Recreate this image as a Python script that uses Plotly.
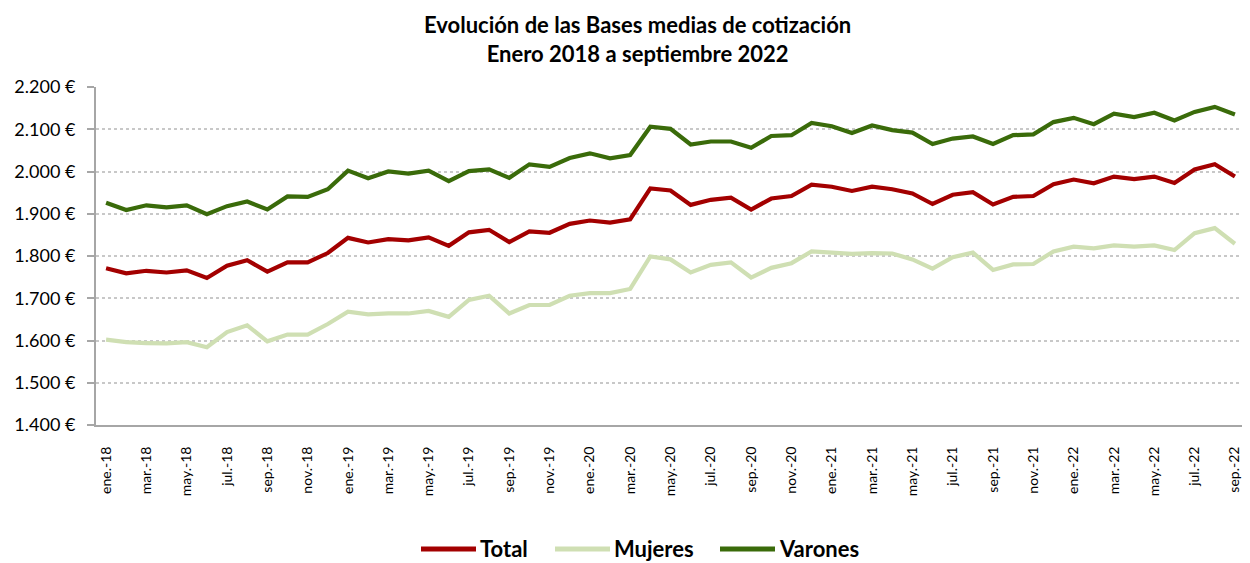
import plotly.graph_objects as go

months = ["ene.", "feb.", "mar.", "abr.", "may.", "jun.", "jul.", "ago.", "sep.", "oct.", "nov.", "dic."]
categories = [f"{m}-{y}" for y in ["18", "19", "20", "21", "22"] for m in months][:57]

total = [1771, 1759, 1765, 1761, 1766, 1748, 1777, 1790, 1763, 1785, 1785, 1807,
         1843, 1832, 1840, 1837, 1844, 1824, 1856, 1862, 1833, 1858, 1855, 1876,
         1884, 1879, 1887, 1960, 1955, 1921, 1933, 1938, 1910, 1936, 1942, 1969,
         1964, 1954, 1964, 1958, 1948, 1923, 1945, 1951, 1922, 1940, 1942, 1970,
         1981, 1972, 1988, 1982, 1988, 1973, 2005, 2017, 1988]
mujeres = [1602, 1596, 1594, 1593, 1596, 1584, 1620, 1636, 1598, 1614, 1614, 1639,
           1668, 1662, 1664, 1664, 1670, 1656, 1696, 1706, 1664, 1684, 1684, 1706,
           1712, 1712, 1722, 1799, 1792, 1761, 1779, 1785, 1749, 1772, 1783, 1811,
           1808, 1805, 1807, 1806, 1792, 1770, 1797, 1808, 1767, 1780, 1781, 1811,
           1822, 1818, 1825, 1822, 1825, 1814, 1854, 1866, 1829]
varones = [1926, 1909, 1920, 1915, 1920, 1899, 1918, 1929, 1910, 1941, 1940, 1958,
           2002, 1984, 2000, 1995, 2002, 1977, 2001, 2005, 1985, 2017, 2011, 2032,
           2043, 2031, 2039, 2106, 2101, 2064, 2071, 2071, 2056, 2084, 2086, 2115,
           2107, 2091, 2109, 2098, 2092, 2065, 2078, 2083, 2065, 2086, 2088, 2117,
           2127, 2112, 2137, 2129, 2139, 2121, 2141, 2153, 2135]

series_names = ["Total", "Mujeres", "Varones"]
series_values = [total, mujeres, varones]
series_colors = ["#A30000", "#CFDFB3", "#3A6B0A"]

# page offset (default body margin) compensation
OFF = 8
PAGE_W, PAGE_H = 1250, 563
W, H = PAGE_W - OFF, PAGE_H - OFF
# plot area in page pixels: left 96, top 87, bottom 425, right 1245
ML, MT = 96 - OFF, 87 - OFF
MB, MR = PAGE_H - 425, 5
PW, PH = W - ML - MR, H - MT - MB

def px_x(p):  # page pixel -> paper x
    return (p - OFF - ML) / PW

def px_y(p):  # page pixel -> paper y
    return (H - MB - (p - OFF)) / PH

font_family = "Lato, 'Open Sans', sans-serif"

fig = go.Figure()
for name, vals, color in zip(series_names, series_values, series_colors):
    fig.add_trace(go.Scatter(x=categories, y=vals, name=name, mode="lines",
                             line=dict(color=color, width=4.2), showlegend=False))

# custom legend (bottom centre)
legend_starts = [421, 555, 720]
legend_y = 548
shapes, annotations = [], []
for name, color, x0 in zip(series_names, series_colors, legend_starts):
    shapes.append(dict(type="line", xref="paper", yref="paper",
                       x0=px_x(x0), x1=px_x(x0 + 55), y0=px_y(legend_y + 1), y1=px_y(legend_y + 1),
                       line=dict(color=color, width=5)))
    annotations.append(dict(xref="paper", yref="paper", x=px_x(x0 + 57), y=px_y(legend_y),
                            xanchor="left", yanchor="middle", showarrow=False,
                            text=f"<b>{name}</b>",
                            font=dict(size=22, family=font_family, color="#000000")))

# title as annotation
annotations.append(dict(xref="paper", yref="paper", x=px_x(637), y=px_y(39),
                        xanchor="center", yanchor="middle", showarrow=False, align="center",
                        text="<b>Evolución de las Bases medias de cotización<br>Enero 2018 a septiembre 2022</b>",
                        font=dict(size=22, family=font_family, color="#000000")))

fig.update_layout(
    width=W, height=H,
    margin=dict(l=ML, r=MR, t=MT, b=MB),
    plot_bgcolor="white", paper_bgcolor="white",
    separators=",.",
    font=dict(family=font_family, color="#000000", size=16),
    showlegend=False,
    shapes=shapes,
    annotations=annotations,
)
fig.update_xaxes(
    type="category", range=[-0.5, 56.5], automargin=False,
    tickvals=categories[::2], ticktext=categories[::2], tickangle=-90,
    showline=True, linecolor="#A6A6A6", linewidth=2, showgrid=False,
    ticks="", ticklabelstandoff=14, tickfont=dict(size=14, color="#000000"),
)
fig.update_yaxes(
    range=[1400, 2200], dtick=100, tickformat=",d", ticksuffix=" €", automargin=False,
    showline=True, linecolor="#A6A6A6", linewidth=2,
    ticks="outside", ticklen=7, tickcolor="#A6A6A6", tickwidth=1.5,
    ticklabelstandoff=8,
    showgrid=True, gridcolor="#C8C8C8", griddash="dot", gridwidth=1.5,
    zeroline=False, tickfont=dict(size=18, color="#000000"),
)
fig.write_html("out.html")
